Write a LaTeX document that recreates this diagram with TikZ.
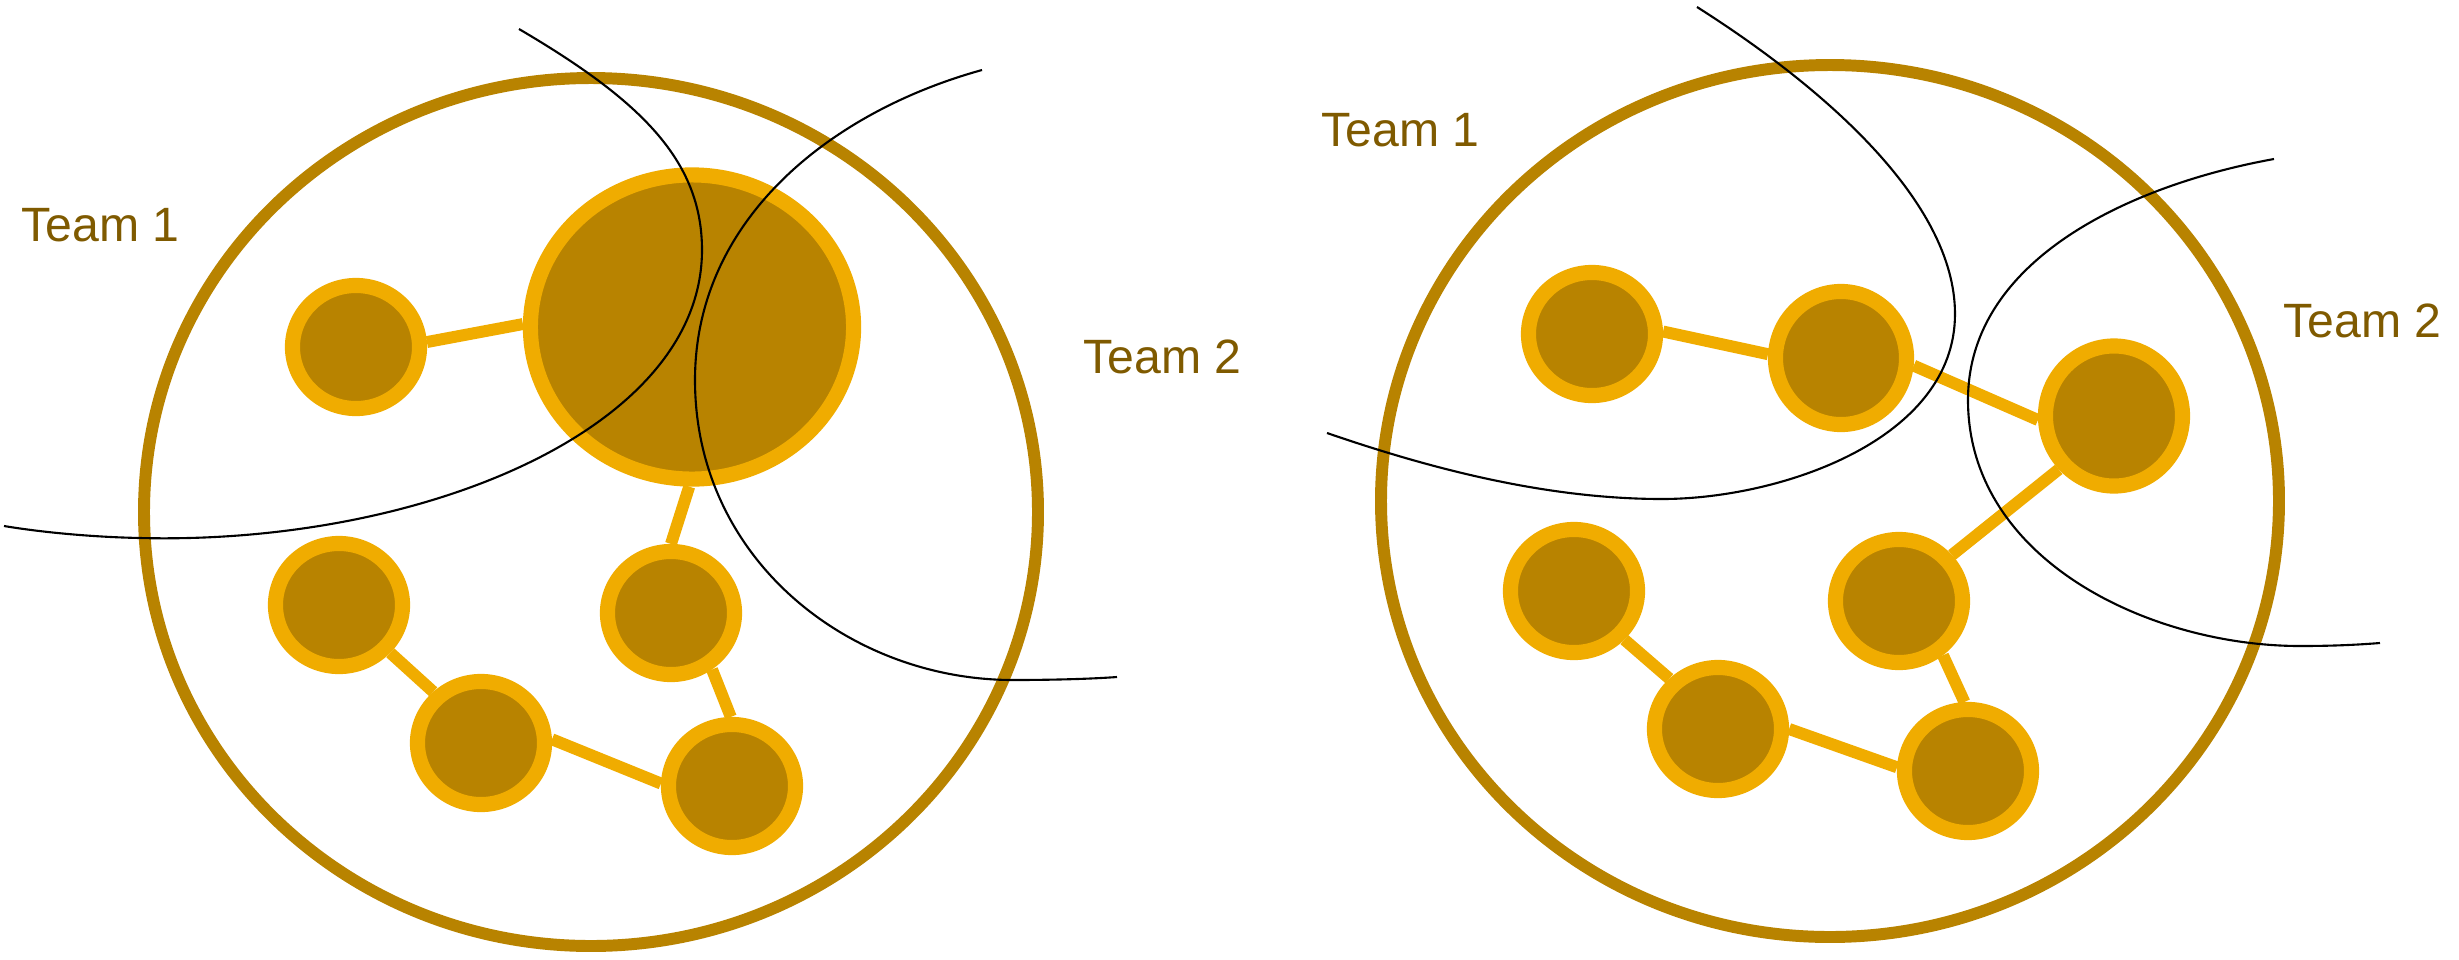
\documentclass[tikz,border=0pt]{standalone}
\usepackage{fontspec}
\setmainfont{Liberation Sans}
\usepackage{tikz}
\usetikzlibrary{shapes.geometric}
\definecolor{teamring}{HTML}{B88300}
\definecolor{memberring}{HTML}{F0AC00}
\definecolor{teamtext}{HTML}{7F5A00}

\begin{document}
\begin{tikzpicture}[x=0.01cm, y=-0.01cm,
  member/.style={ellipse, draw=memberring, fill=teamring, line width=4.3pt,
    inner sep=0pt, minimum width=1.27cm, minimum height=1.23cm},
  widemember/.style={member, minimum width=1.31cm, minimum height=1.33cm},
  link/.style={memberring, line width=3.4pt},
  team/.style={teamring, line width=3.4pt},
  boundary/.style={black, line width=0.6pt},
  teamlabel/.style={text=teamtext, font=\fontsize{13.7}{16}\selectfont,
    anchor=base west, inner sep=0pt}]
\useasboundingbox (0,0) rectangle (2459,960);

% --- Left: one big shared member ---
\draw[team] (591,512) ellipse [x radius=447, y radius=434];

\node[member, minimum width=3.23cm, minimum height=3.04cm] (hub) at (692,327) {};
\node[member] (la) at (356,347) {};
\node[member] (lc) at (339,605) {};
\node[member] (ld) at (671,613) {};
\node[member] (le) at (481,743) {};
\node[member] (lf) at (732,786) {};

\draw[link] (la.4) -- (hub.179);
\draw[link] (hub.269) -- (ld.90);
\draw[link] (ld.306) -- (lf.91);
\draw[link] (lf.178) -- (le.3);
\draw[link] (le.133) -- (lc.317);

\node[teamlabel] (lteam1) at (21,241) {Team 1};
\node[teamlabel] (lteam2) at (1083,373) {Team 2};

% team boundaries
\draw[boundary] (519,29) .. controls (640,100) and (702,160) .. (702,250)
  .. controls (702,430) and (420,545) .. (140,538)
  .. controls (90,537) and (40,532) .. (4,526);
\draw[boundary] (982,70) .. controls (830,112) and (695,220) .. (695,380)
  .. controls (695,560) and (850,680) .. (1013,680)
  .. controls (1050,680) and (1090,679) .. (1117,677);

% --- Right: chain of ordinary members ---
\draw[team] (1830,501) ellipse [x radius=449, y radius=436];

\node[member] (rg) at (1592,334) {};
\node[widemember] (rh) at (1841,358) {};
\node[widemember, minimum width=1.37cm, minimum height=1.40cm] (ri) at (2114,416) {};
\node[member] (rj) at (1574,591) {};
\node[member] (rk) at (1899,601) {};
\node[member] (rl) at (1718,729) {};
\node[member] (rm) at (1968,771) {};

\draw[link] (rg.2) -- (rh.177);
\draw[link] (rh.354) -- (ri.183);
\draw[link] (ri.224) -- (rk.41);
\draw[link] (rk.309) -- (rm.93);
\draw[link] (rm.177) -- (rl.0);
\draw[link] (rl.134) -- (rj.316);

\node[teamlabel] (rteam1) at (1321,146) {Team 1};
\node[teamlabel] (rteam2) at (2283,337) {Team 2};

% team boundaries
\draw[boundary] (1697,7) .. controls (1820,85) and (1955,200) .. (1955,314)
  .. controls (1955,440) and (1780,499) .. (1662,499)
  .. controls (1540,499) and (1420,465) .. (1327,433);
\draw[boundary] (2274,159) .. controls (2130,185) and (1968,260) .. (1968,400)
  .. controls (1968,560) and (2150,646) .. (2300,646)
  .. controls (2330,646) and (2355,645) .. (2380,643);
\end{tikzpicture}
\end{document}
